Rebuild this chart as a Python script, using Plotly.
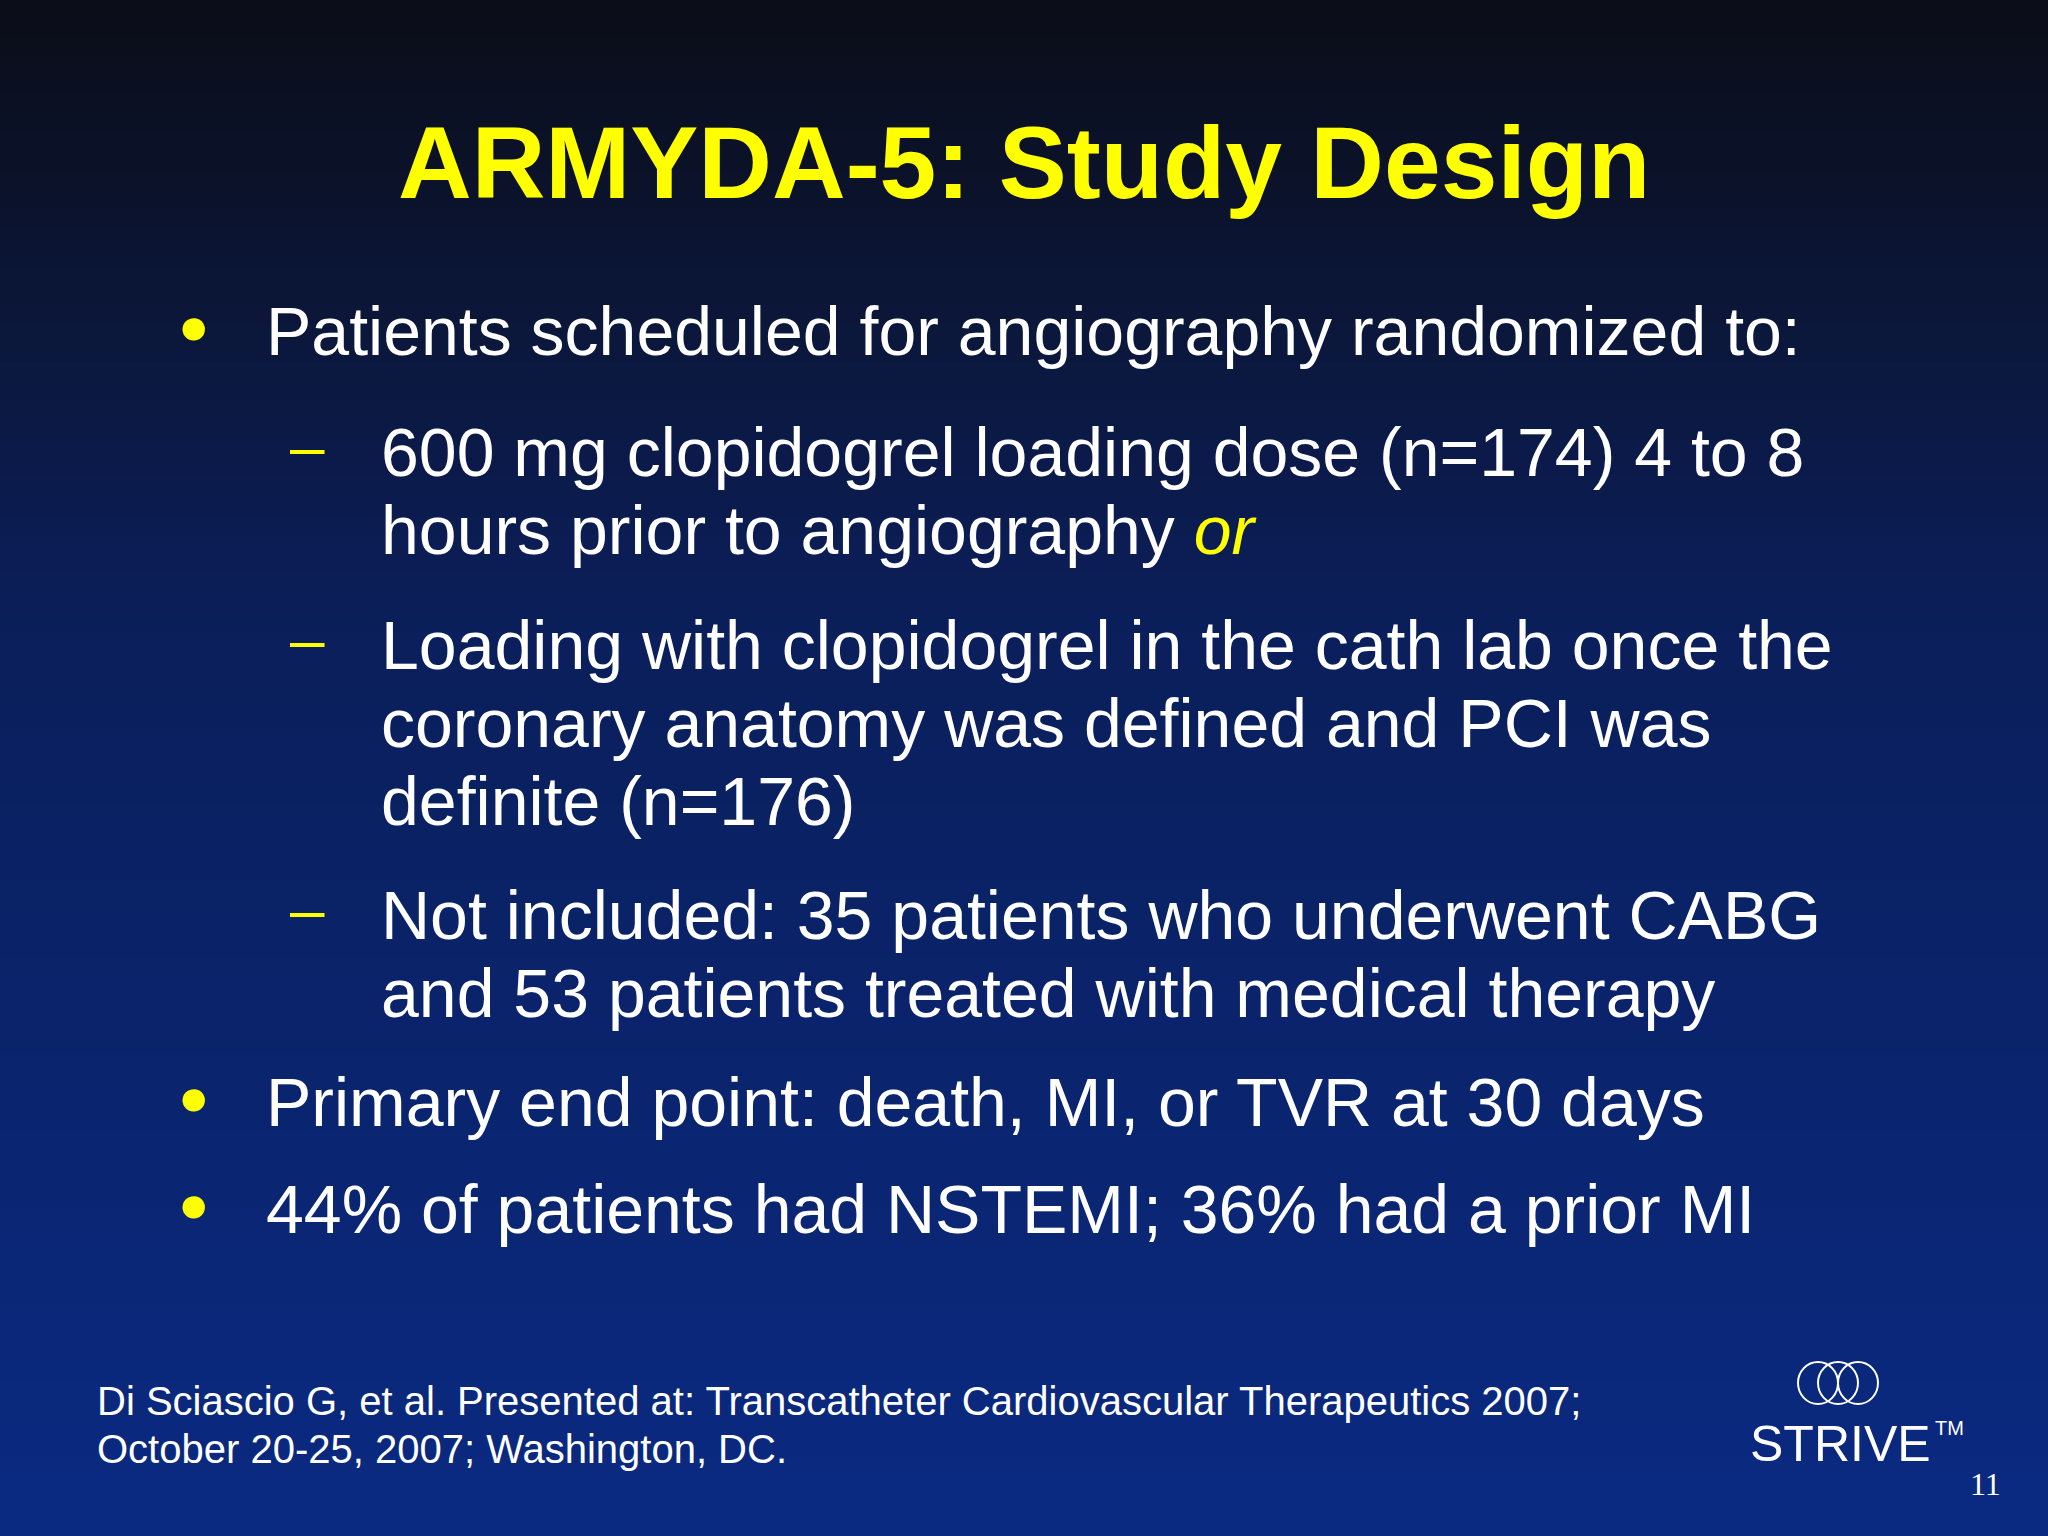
import plotly.graph_objects as go
import numpy as np

title = "ARMYDA-5: Study Design"
bullets = [
    ("Patients scheduled for angiography randomized to:", 331),
    ("Primary end point: death, MI, or TVR at 30 days", 1102),
    ("44% of patients had NSTEMI; 36% had a prior MI", 1209),
]
sub_items = [
    (["600 mg clopidogrel loading dose (n=174) 4 to 8",
      "hours prior to angiography <i><span style='color:#FFFF00'>or</span></i>"], 452),
    (["Loading with clopidogrel in the cath lab once the",
      "coronary anatomy was defined and PCI was",
      "definite (n=176)"], 645),
    (["Not included: 35 patients who underwent CABG",
      "and 53 patients treated with medical therapy"], 915),
]
footer = ["Di Sciascio G, et al. Presented at: Transcatheter Cardiovascular Therapeutics 2007;",
          "October 20-25, 2007; Washington, DC."]

W, H = 2048, 1536
fig = go.Figure()
shapes = []
N = 80
c0 = np.array([0x0b, 0x0e, 0x18]); c1 = np.array([0x0b, 0x1f, 0x5a]); c2 = np.array([0x0a, 0x2a, 0x82])
for i in range(N):
    t = i / (N - 1)
    c = c0 + (c1 - c0) * (t / 0.4) if t < 0.4 else c1 + (c2 - c1) * ((t - 0.4) / 0.6)
    col = "rgb(%d,%d,%d)" % tuple(c.astype(int))
    shapes.append(dict(type="rect", xref="paper", yref="paper", x0=0, x1=1,
                       y0=1 - (i + 1) / N, y1=1 - i / N + 0.002, fillcolor=col, line=dict(width=0), layer="below"))
F = "Liberation Sans, Arial, sans-serif"
ann = []
ann.append(dict(x=1024, y=163, text="<b>%s</b>" % title, font=dict(size=102, color="#FFFF00", family=F), xanchor="center"))
for txt, y in bullets:
    ann.append(dict(x=193, y=y - 5, text="●", font=dict(size=52, color="#FFFF00", family=F), xanchor="center"))
    ann.append(dict(x=264, y=y, text=txt, font=dict(size=68, color="white", family=F), xanchor="left"))
lh = 78
for lines, y0 in sub_items:
    ann.append(dict(x=307, y=y0 - 6, text="–", font=dict(size=62, color="#FFFF00", family=F), xanchor="center"))
    for i, l in enumerate(lines):
        ann.append(dict(x=379, y=y0 + i * lh, text=l, font=dict(size=68, color="white", family=F), xanchor="left"))
for i, l in enumerate(footer):
    ann.append(dict(x=95, y=1401 + i * 48, text=l, font=dict(size=40, color="white", family=F), xanchor="left"))
ann.append(dict(x=1748, y=1444, text="STRIVE", font=dict(size=50, color="white", family=F), xanchor="left"))
ann.append(dict(x=1933, y=1428, text="TM", font=dict(size=20, color="white", family=F), xanchor="left"))
ann.append(dict(x=1985, y=1484, text="11", font=dict(size=32, color="white", family="Liberation Serif, serif"), xanchor="center"))
for a in ann:
    a.update(xref="x", yref="y", yanchor="middle", showarrow=False)
for cx in (1818, 1838, 1858):
    shapes.append(dict(type="circle", xref="x", yref="y", x0=cx - 20, x1=cx + 20, y0=1362, y1=1404,
                       line=dict(color="white", width=2)))
fig.add_trace(go.Scatter(x=[0, W], y=[0, H], mode="markers", marker=dict(opacity=0), hoverinfo="skip", showlegend=False))
fig.update_layout(width=W, height=H, margin=dict(l=0, r=0, t=0, b=0),
                  xaxis=dict(range=[0, W], visible=False), yaxis=dict(range=[H, 0], visible=False),
                  annotations=ann, shapes=shapes, plot_bgcolor="rgba(0,0,0,0)", paper_bgcolor="#0b1a4a")
fig.write_html("out.html", config={"displayModeBar": False},
               post_script="document.body.style.margin='0';document.body.style.overflow='hidden';")
